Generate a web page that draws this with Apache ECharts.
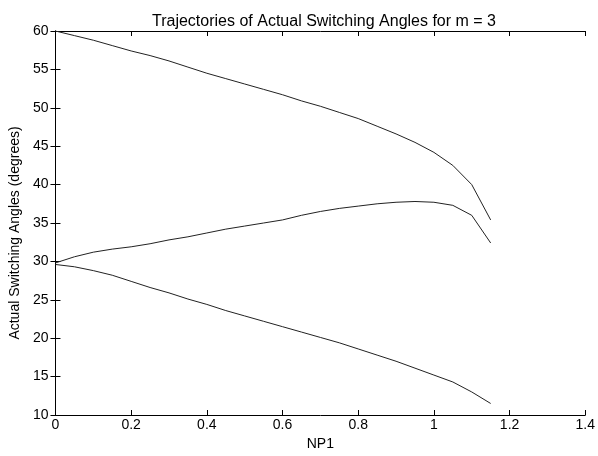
<!DOCTYPE html>
<html>
<head>
<meta charset="utf-8">
<script src="https://cdn.jsdelivr.net/npm/echarts@6/dist/echarts.min.js"></script>
<style>html,body{margin:0;padding:0;background:#fff}#c{width:598px;height:456px}</style>
</head>
<body>
<div id="c"></div>
<script>
var xVals = [0,0.05,0.1,0.15,0.2,0.25,0.3,0.35,0.4,0.45,0.5,0.55,0.6,0.65,0.7,0.75,0.8,0.85,0.9,0.95,1.0,1.05,1.1,1.15];
var angle1 = [60,59.4,58.8,58.1,57.4,56.8,56.1,55.3,54.5,53.8,53.1,52.4,51.7,50.9,50.2,49.4,48.6,47.6,46.6,45.5,44.2,42.5,40.0,35.4];
var angle2 = [29.8,30.6,31.2,31.6,31.9,32.3,32.8,33.2,33.7,34.2,34.6,35.0,35.4,36.0,36.5,36.9,37.2,37.5,37.7,37.8,37.7,37.3,36.0,32.4];
var angle3 = [29.6,29.3,28.8,28.2,27.4,26.6,25.9,25.1,24.4,23.6,22.9,22.2,21.5,20.8,20.1,19.4,18.6,17.8,17.0,16.1,15.2,14.3,13.0,11.5];
var titleText = "Trajectories of Actual Switching Angles for m = 3";
var xName = "NP1";
var yName = "Actual Switching Angles (degrees)";

function pairs(ys){ return xVals.map(function(x,i){ return [x, ys[i]]; }); }

var font = "Liberation Sans, Arial, sans-serif";
var axisLine = {show:true, lineStyle:{color:'#000', width:1}};
var tickIn = {show:true, inside:true, length:5, lineStyle:{color:'#000'}};
var lbl = {color:'#000', fontFamily:font, fontSize:14};

var chart = echarts.init(document.getElementById('c'), null, {renderer:'canvas'});
chart.setOption({
  animation:false,
  backgroundColor:'#fff',
  title:{text:titleText, left:319, top:9, textAlign:'center',
    textStyle:{fontFamily:font, fontSize:16, fontWeight:'normal', color:'#000'}},
  grid:{left:53, top:31, width:533, height:390, containLabel:false},
  xAxis:[
    {type:'value', min:0, max:1.4, interval:0.2, position:'bottom',
     name:xName, nameLocation:'middle', nameGap:22,
     nameTextStyle:{fontFamily:font, fontSize:14, color:'#000'},
     axisLine:axisLine, axisTick:tickIn, splitLine:{show:false},
     axisLabel:Object.assign({margin:3, formatter:function(v){return String(Math.round(v*10)/10);}}, lbl)},
    {type:'value', min:0, max:1.4, interval:0.2, position:'top',
     axisLine:axisLine, axisTick:tickIn, splitLine:{show:false}, axisLabel:{show:false}}
  ],
  yAxis:[
    {type:'value', min:10, max:60, interval:5, position:'left',
     name:yName, nameLocation:'middle', nameGap:28, nameRotate:90,
     nameTextStyle:{fontFamily:font, fontSize:14, color:'#000', padding:[0,20,0,0]},
     axisLine:axisLine, axisTick:tickIn, splitLine:{show:false},
     axisLabel:Object.assign({margin:7}, lbl)},
    {type:'value', min:10, max:60, interval:5, position:'right',
     axisLine:axisLine, axisTick:tickIn, splitLine:{show:false}, axisLabel:{show:false}}
  ],
  series:[
    {type:'line', data:pairs(angle1), showSymbol:false, lineStyle:{color:'#222', width:1}},
    {type:'line', data:pairs(angle2), showSymbol:false, lineStyle:{color:'#222', width:1}},
    {type:'line', data:pairs(angle3), showSymbol:false, lineStyle:{color:'#222', width:1}}
  ]
});
</script>
</body>
</html>
